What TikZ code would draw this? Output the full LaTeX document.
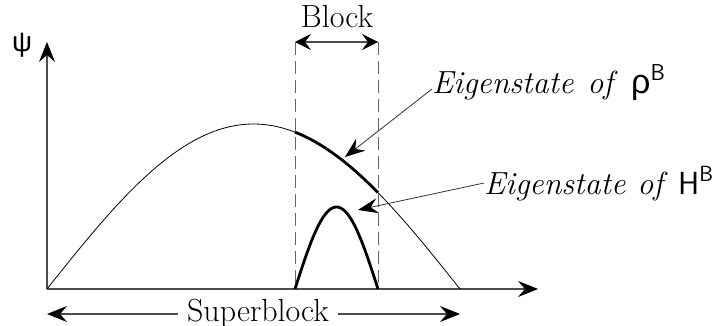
\documentclass[tikz,border=0pt]{standalone}
\usepackage{fontspec}
\newfontfamily\grk{Liberation Sans}
\usetikzlibrary{arrows.meta}
\begin{document}
\begin{tikzpicture}[x=1pt,y=-1pt,
  tip/.style={-{Stealth[length=20pt,width=16pt,inset=7pt,color=black]}},
  axis/.style={line width=1.1pt,draw=black!70,tip},
  guide/.style={line width=1pt,draw=black!60,dash pattern=on 13pt off 6pt},
  thin/.style={line width=0.8pt,draw=black},
  thick/.style={line width=2.8pt,draw=black},
  lab/.style={inner sep=0pt,font=\fontsize{32}{38}\selectfont},
  pointer/.style={line width=0.8pt,draw=black!80,-{Stealth[length=20pt,width=15pt,inset=7pt,color=black]}}]
\useasboundingbox (0,0) rectangle (717,326);
% axes
\coordinate (O) at (47,289);
\coordinate (ytop) at (47,42);
\coordinate (xend) at (538,289);
\draw[axis] (O) -- (ytop);
\draw[axis] (O) -- (xend);
\node[lab,font=\fontsize{28}{34}\selectfont\grk] (psi) at (22,45) {ψ};
% block guides
\coordinate (bl) at (295,42);
\coordinate (br) at (378,42);
\coordinate (blb) at (295,289);
\coordinate (brb) at (378,289);
\draw[guide] (bl) -- (blb);
\draw[guide] (br) -- (brb);
\draw[line width=1.1pt,draw=black!70,{Stealth[length=16pt,width=16pt,inset=6pt,color=black]}-{Stealth[length=16pt,width=16pt,inset=6pt,color=black]}] (bl) -- (br);
\node[lab,anchor=base] (block) at (337,28) {Block};
% curves
\draw[thin] plot[domain=47:460,samples=120] (\x,{289-165*sin(0.435835*(\x-47))});
\draw[thick] plot[domain=295:378,samples=40] (\x,{289-165*sin(0.435835*(\x-47))});
\draw[thick] plot[domain=295:378,samples=60] (\x,{289-82*sin(2.168675*(\x-295))});
% labels
\node[lab,anchor=base west] (rho) at (432,94) {\textit{Eigenstate}\hspace{4pt} \textit{of}\hspace{4pt} {\fontsize{34}{38}\selectfont\grk ρ}\raisebox{13pt}{\fontsize{23}{26}\selectfont\sffamily B}};
\node[lab,anchor=base west] (ham) at (484,194) {\textit{Eigenstate}\hspace{2pt} \textit{of}\hspace{1pt} {\sffamily H}\raisebox{13pt}{\fontsize{22}{26}\selectfont\sffamily B}};
\coordinate (rtip) at (345,157);
\coordinate (htip) at (358,210);
\draw[pointer] ([shift={(0pt,5pt)}]rho.base west) -- (rtip);
\draw[pointer] ([shift={(0pt,11pt)}]ham.base west) -- (htip);
% superblock
\coordinate (sl) at (47,314);
\coordinate (sr) at (460,314);
\node[lab,anchor=base,inner xsep=9pt] (sb) at (258,321) {Superblock};
\draw[axis] (sb.west |- sl) -- (sl);
\draw[axis] (sb.east |- sr) -- (sr);
\end{tikzpicture}
\end{document}
